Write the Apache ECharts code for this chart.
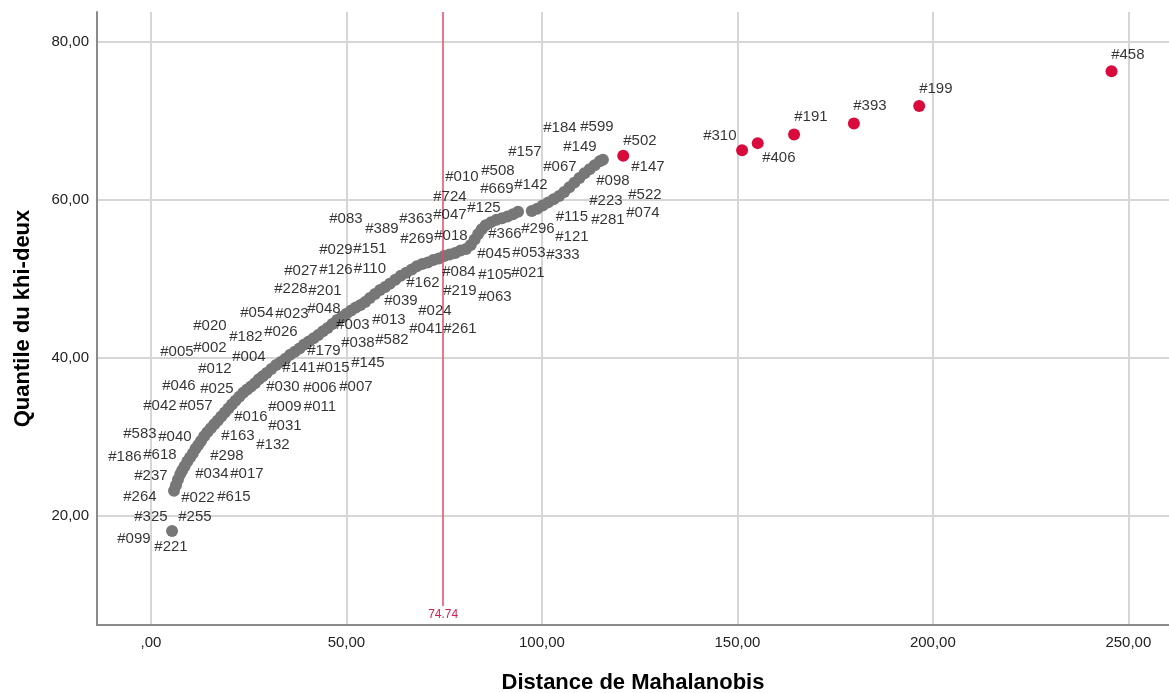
<!DOCTYPE html>
<html>
<head>
<meta charset="utf-8">
<title>Distance de Mahalanobis</title>
<script src="https://cdn.jsdelivr.net/npm/echarts@6/dist/echarts.min.js"></script>
<style>
  html, body { margin: 0; padding: 0; background: #fff; }
  #main { width: 1169px; height: 693px; }
</style>
</head>
<body>
<div id="main"></div>
<script type="text/javascript">
// gray cases (Mahalanobis distance, chi-square quantile)
var grayPts = [
  [5.4,18.1],
  [5.9,23.2],[6.4,23.9],[6.9,24.6],[7.5,25.3],[8.0,25.8],[8.6,26.3],[9.3,26.9],[10.0,27.4],
  [10.7,27.9],[11.4,28.5],[12.1,29.0],[12.8,29.5],[13.6,30.1],[14.4,30.6],[15.3,31.1],
  [16.2,31.6],[17.1,32.1],[18.0,32.6],[18.9,33.1],[19.8,33.6],[20.7,34.1],[21.6,34.6],
  [22.6,35.1],[23.6,35.6],[24.6,36.0],[25.6,36.4],[26.6,36.8],[27.6,37.3],[28.6,37.7],
  [29.6,38.1],[30.8,38.6],[32.0,39.1],[33.2,39.5],[34.4,39.9],[35.6,40.4],[36.8,40.8],
  [38.0,41.2],[39.2,41.7],[40.4,42.1],[41.6,42.5],[42.8,42.9],[44.0,43.4],[45.2,43.8],
  [46.4,44.3],[47.6,44.8],[48.8,45.2],[50.0,45.6],[51.2,46.0],[52.4,46.4],[53.6,46.7],
  [54.8,47.1],[56.0,47.6],[57.3,48.1],[58.6,48.6],[59.9,49.0],[61.1,49.4],[62.5,49.9],
  [63.9,50.4],[65.3,50.8],[66.7,51.2],[68.0,51.6],[69.4,51.9],[70.8,52.1],[72.2,52.4],
  [73.6,52.6],[75.0,52.9],[76.4,53.1],[77.8,53.3],[79.2,53.6],[80.6,53.8],[81.8,54.3],
  [82.8,55.0],[83.7,55.7],[84.6,56.3],[85.6,56.8],[87.0,57.2],[88.4,57.5],[89.8,57.7],
  [91.2,57.9],[92.6,58.2],[93.9,58.5],
  [97.4,58.6],[98.8,58.9],[100.2,59.3],[101.6,59.7],[103.0,60.1],[104.4,60.5],[105.7,61.0],
  [107.0,61.6],[108.3,62.2],[109.6,62.8],[110.9,63.4],[112.2,63.9],[113.5,64.4],[114.8,64.9],
  [115.6,65.1]
];

// outlying cases (red)
var outlierPts = [
  [120.8,65.6],[151.2,66.3],[155.2,67.2],[164.5,68.3],[179.8,69.7],[196.5,71.9],[245.7,76.3]
];

// case labels: name, x, y (where the text sits)
var caseLabels = [
  ['#099',-4.35,17.09],['#221',5.12,16.08],['#325',0,19.87],['#255',11.25,19.87],
  ['#264',-2.81,22.40],['#022',12.02,22.28],['#615',21.23,22.40],['#237',0,25.06],
  ['#034',15.60,25.32],['#017',24.55,25.32],['#186',-6.65,27.47],['#618',2.30,27.72],
  ['#298',19.44,27.60],['#583',-2.81,30.38],['#040',6.14,30.0],['#163',22.25,30.13],
  ['#132',31.20,28.99],['#016',25.58,32.53],['#031',34.27,31.39],['#042',2.30,33.92],
  ['#057',11.51,33.92],['#009',34.27,33.80],['#011',43.22,33.80],['#046',7.16,36.46],
  ['#025',16.88,36.08],['#030',33.76,36.33],['#006',43.22,36.20],['#007',52.43,36.33],
  ['#012',16.37,38.61],['#141',37.85,38.73],['#015',46.55,38.73],['#145',55.50,39.37],
  ['#005',6.65,40.76],['#002',15.09,41.27],['#004',25.06,40.13],['#179',44.25,40.89],
  ['#038',52.94,41.90],['#582',61.64,42.28],['#020',15.09,44.05],['#182',24.30,42.66],
  ['#026',33.25,43.29],['#003',51.66,44.18],['#013',60.87,44.81],['#041',70.33,43.67],
  ['#261',79.03,43.67],['#054',27.11,45.70],['#023',36.06,45.57],['#048',44.25,46.20],
  ['#024',72.63,45.95],['#039',63.94,47.22],['#228',35.81,48.73],['#201',44.50,48.48],
  ['#162',69.57,49.49],['#219',79.03,48.48],['#063',87.98,47.72],['#084',78.77,50.89],
  ['#105',87.98,50.51],['#021',96.42,50.76],['#027',38.36,51.01],['#126',47.31,51.14],
  ['#110',56.01,51.27],['#045',87.72,53.16],['#053',96.68,53.29],['#333',105.37,53.04],
  ['#029',47.31,53.67],['#151',56.01,53.80],['#366',90.54,55.70],['#296',98.98,56.33],
  ['#121',107.67,55.32],['#269',68.03,55.06],['#018',76.73,55.44],['#389',59.08,56.33],
  ['#083',49.87,57.60],['#363',67.77,57.60],['#047',76.47,58.10],['#125',85.17,58.99],
  ['#115',107.67,57.85],['#281',116.88,57.47],['#074',125.83,58.35],['#223',116.37,59.87],
  ['#522',126.34,60.63],['#724',76.47,60.38],['#669',88.49,61.39],['#142',97.19,61.90],
  ['#098',118.16,62.41],['#010',79.54,62.91],['#508',88.75,63.67],['#067',104.60,64.18],
  ['#147',127.11,64.18],['#157',95.65,66.08],['#149',109.72,66.71],['#502',125.06,67.47],
  ['#184',104.60,69.12],['#599',114.07,69.24],['#310',145.52,68.10],['#406',160.61,65.32],
  ['#191',168.80,70.51],['#393',183.89,71.90],['#199',200.77,74.05],['#458',249.87,78.35]
];

var cutoff = 74.74;
var xMin = -13.8, xMax = 260.4;
var yMin = 6.2, yMax = 83.8;

function fmt(v) {
    if (v === 0) return ',00';
    return v.toFixed(2).replace('.', ',');
}

var font = "'Liberation Sans', Arial, sans-serif";
var mychart = echarts.init(document.getElementById('main'));

var option = {
    animation: false,
    grid: { left: 97, right: 0, top: 12, bottom: 68, outerBoundsMode: 'none' },
    xAxis: {
        type: 'value',
        min: xMin, max: xMax, splitNumber: 5,
        name: 'Distance de Mahalanobis',
        nameLocation: 'middle', nameGap: 47,
        nameTextStyle: { fontFamily: font, fontSize: 22, fontWeight: 'bold', color: '#000' },
        axisLine: { onZero: false, lineStyle: { color: '#8a8a8a', width: 2 } },
        axisTick: { show: false },
        axisLabel: { formatter: fmt, showMinLabel: false, showMaxLabel: false, margin: 10,
                     fontFamily: font, fontSize: 15, color: '#222' },
        splitLine: { show: true, showMinLine: false, showMaxLine: false,
                     lineStyle: { color: '#d6d6d6', width: 2 } }
    },
    yAxis: {
        type: 'value',
        min: yMin, max: yMax, splitNumber: 4,
        name: 'Quantile du khi-deux',
        nameLocation: 'middle', nameGap: 63,
        nameTextStyle: { fontFamily: font, fontSize: 22, fontWeight: 'bold', color: '#000' },
        axisLine: { show: true, onZero: false, lineStyle: { color: '#8a8a8a', width: 2 } },
        axisTick: { show: false },
        axisLabel: { formatter: fmt, showMinLabel: false, showMaxLabel: false, margin: 8,
                     fontFamily: font, fontSize: 15, color: '#222' },
        splitLine: { show: true, showMinLine: false, showMaxLine: false,
                     lineStyle: { color: '#d6d6d6', width: 2 } }
    },
    series: [
        {
            name: 'cas',
            type: 'scatter',
            symbolSize: 12,
            itemStyle: { color: '#777777', opacity: 1 },
            data: grayPts,
            markLine: {
                silent: true,
                symbol: 'none',
                lineStyle: { color: '#e24a6b', width: 1.5, type: 'solid' },
                label: { show: true, position: 'end', distance: 3, formatter: String(cutoff),
                         color: '#d81e4e', fontFamily: font, fontSize: 12 },
                data: [[{ coord: [cutoff, yMax] }, { coord: [cutoff, 8.6] }]]
            }
        },
        {
            name: 'extremes',
            type: 'scatter',
            symbolSize: 12,
            itemStyle: { color: '#d90a3c', opacity: 1 },
            data: outlierPts
        },
        {
            name: 'labels',
            type: 'scatter',
            symbolSize: 0,
            silent: true,
            data: caseLabels.map(function (d) { return { name: d[0], value: [d[1], d[2]] }; }),
            label: {
                show: true, position: 'inside',
                formatter: function (p) { return p.name; },
                color: '#000', fontFamily: font, fontSize: 15, textBorderWidth: 0
            },
            z: 5
        }
    ]
};
mychart.setOption(option);
</script>
</body>
</html>
